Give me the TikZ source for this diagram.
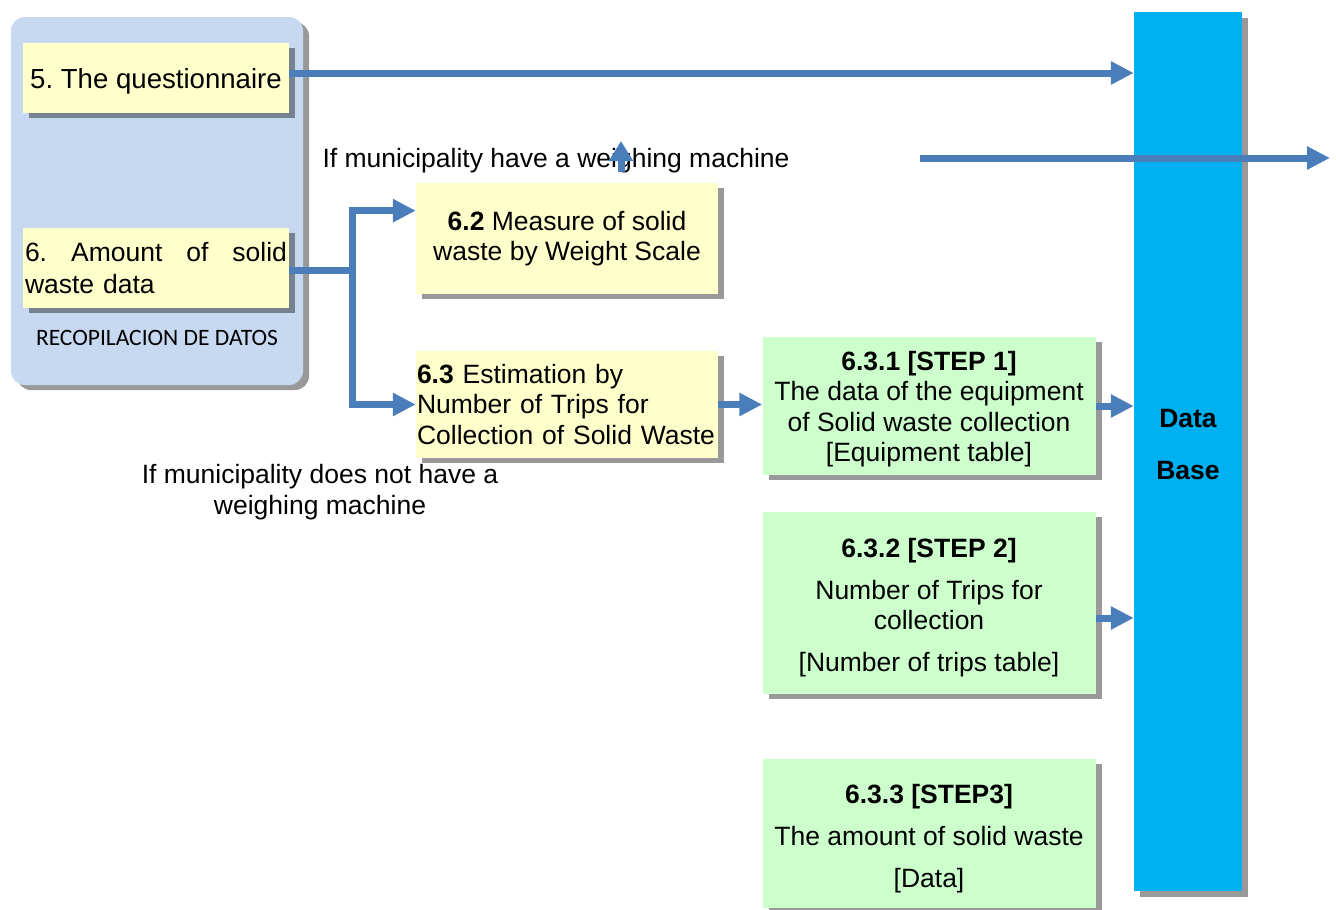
\documentclass[tikz,border=0pt]{standalone}
\usepackage{fontspec}
\setmainfont{Liberation Sans}
\newfontfamily\calibfont{Carlito}
\usetikzlibrary{arrows.meta,shadows,calc}
\definecolor{arrowblue}{HTML}{4A7EBB}
\definecolor{yellowbox}{HTML}{FFFFCC}
\definecolor{greenbox}{HTML}{CCFFCC}
\definecolor{dbblue}{HTML}{00B0F0}
\definecolor{outerblue}{HTML}{C6D9F1}
\newcommand\topstrut[1]{\rule{0pt}{#1}}
\frenchspacing
\begin{document}
\begin{tikzpicture}[x=1pt,y=-1pt,
  shad/.style={drop shadow={shadow xshift=6pt, shadow yshift=-5pt, fill=black, opacity=0.4}},
  box/.style={draw=none, inner sep=0pt, align=center, shad,
    font=\fontsize{26.5}{30.5}\selectfont},
  ybox/.style={box, fill=yellowbox},
  gbox/.style={box, fill=greenbox},
  link/.style={draw=arrowblue, line width=7pt},
  arr/.style={link, -{Triangle[length=23pt,width=22pt]}},
  lbl/.style={inner sep=0pt, align=center, font=\fontsize{26.5}{30.5}\selectfont}]
\useasboundingbox (0,0) rectangle (1336,910);

% group box
\node[fill=outerblue, rounded corners=14pt, minimum width=292pt, minimum height=368pt,
  inner sep=0pt, shad] (grp) at (157,201) {};
\node[ybox, minimum width=266pt, minimum height=70pt, font=\fontsize{27.6}{31}\selectfont] (q) at (156,78) {\topstrut{26pt}5. The questionnaire};
\node[ybox, minimum width=266pt, minimum height=80pt, align=left, text width=262pt, font=\fontsize{26.5}{31.5}\selectfont] (b6) at (156,268)
  {\hbox to 262pt{6.\hfil Amount\hfil of\hfil solid}\\waste data};
\node[inner sep=0pt, font=\calibfont\fontsize{23.5}{28}\selectfont] (recop) at (157,338) {RECOPILACION DE DATOS};

% data base
\node[fill=dbblue, minimum width=108pt, minimum height=879pt, inner sep=0pt,
  drop shadow={shadow xshift=6pt, shadow yshift=-6pt, fill=black, opacity=0.4}] (db) at (1188,451.5) {};
\node[lbl, font=\bfseries\fontsize{26.5}{30.5}\selectfont] (dbl) at (1188,444.5) {Data\\[22pt]Base};

% process boxes
\node[ybox, minimum width=302pt, minimum height=111pt] (b62) at (567,238.5)
  {\textbf{6.2} Measure of solid\\waste by Weight Scale};
\node[ybox, minimum width=302pt, minimum height=107pt, align=left, text width=300pt, inner xsep=1pt] (b63) at (567,404.5)
  {\textbf{6.3} Estimation by\\Number of Trips for\\Collection of Solid Waste};
\node[gbox, minimum width=333pt, minimum height=138pt] (s1) at (929,406)
  {\topstrut{25pt}\textbf{6.3.1 [STEP 1]}\\The data of the equipment\\of Solid waste collection\\{[}Equipment table{]}};
\node[gbox, minimum width=333pt, minimum height=182pt] (s2) at (929,603)
  {\topstrut{28.5pt}\textbf{6.3.2 [STEP 2]}\\[11.5pt]Number of Trips for\\collection\\[11.5pt]{[}Number of trips table{]}};
\node[gbox, minimum width=333pt, minimum height=149pt] (s3) at (929,833.5)
  {\topstrut{29.5pt}\textbf{6.3.3 [STEP3]}\\[11.5pt]The amount of solid waste\\[11.5pt]{[}Data{]}};

% labels
\node[lbl] (have) at (556,161) {If municipality have a weighing machine};
\node[lbl] (nothave) at (320,492) {If municipality does not have a\\weighing machine};

% connectors
\coordinate (qa) at ($(q.east)+(0,-5)$);
\draw[arr] (qa) -- (qa -| db.west);
\coordinate (j) at (352,270);
\draw[link] ($(b6.east)+(0,2)$) -- (j);
\draw[arr] (j) |- ($(b62.north west)!0.25!(b62.south west)$);
\draw[arr] (j) |- (b63.west);
\draw[arr] (b63.east) -- (b63.east -| s1.west);
\draw[arr] (s1.east) -- (s1.east -| db.west);
\coordinate (s2a) at ($(s2.east)+(0,15)$);
\draw[arr] (s2a) -- (s2a -| db.west);
\coordinate (upS) at (621,172);
\coordinate (upE) at (621,141);
\draw[arr, -{Triangle[length=20pt,width=23pt]}] (upS) -- (upE);
\coordinate (lS) at (920,158);
\coordinate (lE) at (1330,158);
\draw[arr] (lS) -- (lE);
\end{tikzpicture}
\end{document}
